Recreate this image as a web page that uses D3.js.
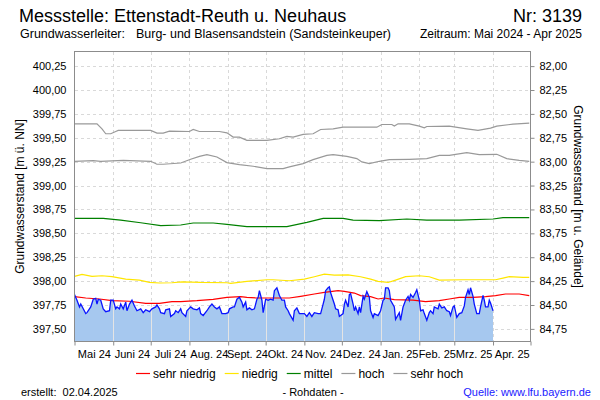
<!DOCTYPE html>
<html><head><meta charset="utf-8">
<script src="https://cdn.jsdelivr.net/npm/d3@7"></script>
<style>body{margin:0;background:#fff}svg{display:block;font-family:"Liberation Sans",Arial,sans-serif}</style>
</head><body><svg id="c" width="600" height="400"></svg>
<script>
// ---------- DATA ----------
const monthLabels = ["Mai 24","Juni 24","Juli 24","Aug. 24","Sept. 24","Okt. 24","Nov. 24","Dez. 24","Jan. 25","Feb. 25","Mrz. 25","Apr. 25"];
const monthStarts = ["2024-05-01","2024-06-01","2024-07-01","2024-08-01","2024-09-01","2024-10-01","2024-11-01","2024-12-01","2025-01-01","2025-02-01","2025-03-01","2025-04-01","2025-05-01"];
const leftTicks = [397.50,397.75,398.00,398.25,398.50,398.75,399.00,399.25,399.50,399.75,400.00,400.25];
const rightTicks = [82.00,82.25,82.50,82.75,83.00,83.25,83.50,83.75,84.00,84.25,84.50,84.75];
const groundLevel = 482.25;

const levelDates = ["2024-05-01","2024-05-03","2024-05-05","2024-05-06","2024-05-10","2024-05-11","2024-05-14","2024-05-16","2024-05-18","2024-05-19","2024-05-20","2024-05-22","2024-05-24","2024-05-26","2024-05-29","2024-05-30",
"2024-06-01","2024-06-03","2024-06-04","2024-06-06","2024-06-07","2024-06-09","2024-06-11","2024-06-12","2024-06-14","2024-06-16","2024-06-18","2024-06-20","2024-06-23","2024-06-25","2024-06-27","2024-06-30",
"2024-07-02","2024-07-05","2024-07-06","2024-07-08","2024-07-09","2024-07-12","2024-07-13","2024-07-16","2024-07-17","2024-07-20","2024-07-21","2024-07-23","2024-07-25","2024-07-26","2024-07-29","2024-07-30",
"2024-08-02","2024-08-04","2024-08-07","2024-08-09","2024-08-10","2024-08-12","2024-08-15","2024-08-17","2024-08-19","2024-08-21","2024-08-23","2024-08-25","2024-08-27","2024-08-30",
"2024-09-01","2024-09-02","2024-09-05","2024-09-06","2024-09-08","2024-09-10","2024-09-12","2024-09-13","2024-09-15","2024-09-16","2024-09-18","2024-09-20","2024-09-22","2024-09-24","2024-09-25","2024-09-26","2024-09-28","2024-09-29",
"2024-10-01","2024-10-03","2024-10-05","2024-10-07","2024-10-08","2024-10-10","2024-10-12","2024-10-14","2024-10-16","2024-10-17","2024-10-19","2024-10-20","2024-10-23","2024-10-24","2024-10-26","2024-10-28","2024-10-30",
"2024-11-01","2024-11-03","2024-11-05","2024-11-07","2024-11-09","2024-11-12","2024-11-14","2024-11-16","2024-11-17","2024-11-18","2024-11-20","2024-11-21","2024-11-22","2024-11-24","2024-11-25","2024-11-26","2024-11-28","2024-11-29","2024-11-30",
"2024-12-02","2024-12-03","2024-12-04","2024-12-06","2024-12-07","2024-12-08","2024-12-10","2024-12-11","2024-12-12","2024-12-14","2024-12-15","2024-12-16","2024-12-18","2024-12-19","2024-12-21","2024-12-23","2024-12-24","2024-12-26","2024-12-27","2024-12-30",
"2025-01-01","2025-01-03","2025-01-04","2025-01-05","2025-01-07","2025-01-08","2025-01-09","2025-01-12","2025-01-13","2025-01-16","2025-01-17","2025-01-19","2025-01-21","2025-01-23","2025-01-24","2025-01-25","2025-01-27","2025-01-29","2025-01-30",
"2025-02-01","2025-02-02","2025-02-04","2025-02-05","2025-02-07","2025-02-09","2025-02-10","2025-02-12","2025-02-13","2025-02-16","2025-02-17","2025-02-19","2025-02-21","2025-02-23","2025-02-25","2025-02-26","2025-02-28",
"2025-03-01","2025-03-03","2025-03-05","2025-03-07","2025-03-09","2025-03-10","2025-03-12","2025-03-13","2025-03-14","2025-03-16","2025-03-17","2025-03-19","2025-03-21","2025-03-22","2025-03-24","2025-03-25","2025-03-26","2025-03-28","2025-03-29","2025-03-30","2025-04-01"];
const levelValues = [397.86,397.80,397.73,397.76,397.66,397.67,397.73,397.81,397.82,397.76,397.81,397.80,397.71,397.68,397.69,397.80,
397.80,397.71,397.73,397.71,397.76,397.71,397.78,397.69,397.76,397.80,397.74,397.69,397.71,397.67,397.70,397.68,
397.71,397.73,397.75,397.71,397.67,397.66,397.70,397.71,397.63,397.66,397.69,397.67,397.71,397.67,397.63,397.69,
397.73,397.71,397.70,397.72,397.66,397.64,397.69,397.73,397.76,397.73,397.71,397.73,397.66,397.66,
397.67,397.71,397.73,397.73,397.81,397.83,397.78,397.73,397.78,397.70,397.72,397.70,397.71,397.81,397.83,397.90,397.80,397.67,
397.81,397.80,397.81,397.80,397.90,397.93,397.85,397.80,397.80,397.73,397.69,397.66,397.59,397.69,397.72,397.66,397.66,
397.66,397.63,397.67,397.63,397.67,397.66,397.66,397.76,397.81,397.90,397.93,397.94,397.88,397.80,397.76,397.71,397.70,397.63,397.64,
397.66,397.76,397.80,397.73,397.86,397.87,397.76,397.69,397.73,397.66,397.73,397.67,397.84,397.81,397.89,397.83,397.69,397.62,397.66,397.64,
397.69,397.80,397.81,397.93,397.93,397.90,397.80,397.73,397.60,397.67,397.59,397.73,397.80,397.84,397.80,397.86,397.83,397.88,397.91,
397.80,397.69,397.70,397.66,397.59,397.67,397.69,397.66,397.73,397.71,397.76,397.72,397.73,397.69,397.68,397.64,397.73,
397.74,397.62,397.66,397.67,397.74,397.83,397.91,397.86,397.93,397.84,397.76,397.66,397.66,397.73,397.85,397.80,397.73,397.73,397.80,397.77,397.69];

const sehrHochDates = ["2024-05-01","2024-05-19","2024-05-23","2024-05-26","2024-05-30","2024-06-03","2024-06-05","2024-07-01","2024-07-06","2024-07-11","2024-07-16","2024-08-01","2024-08-04","2024-08-09","2024-08-25","2024-08-31","2024-09-05","2024-09-10","2024-09-16","2024-10-02","2024-10-12","2024-10-18","2024-10-23","2024-10-31","2024-11-08","2024-11-14","2024-11-24","2024-12-02","2024-12-29","2025-01-02","2025-01-10","2025-01-12","2025-01-15","2025-01-24","2025-02-01","2025-02-05","2025-02-07","2025-02-25","2025-03-11","2025-03-20","2025-03-30","2025-04-04","2025-04-17","2025-04-30"];
const sehrHochValues = [399.646,399.646,399.594,399.542,399.542,399.566,399.577,399.577,399.549,399.549,399.570,399.566,399.587,399.566,399.566,399.552,399.507,399.507,399.473,399.473,399.490,399.514,399.507,399.535,399.542,399.587,399.594,399.611,399.611,399.639,399.639,399.622,399.646,399.646,399.622,399.604,399.618,399.622,399.594,399.577,399.601,399.622,399.643,399.653];

const hochDates = ["2024-05-01","2024-05-16","2024-05-22","2024-06-09","2024-07-01","2024-07-06","2024-07-11","2024-07-25","2024-08-02","2024-08-09","2024-08-15","2024-08-23","2024-08-31","2024-09-10","2024-09-21","2024-10-02","2024-10-15","2024-10-20","2024-10-31","2024-11-08","2024-11-19","2024-11-24","2024-12-05","2024-12-13","2024-12-17","2024-12-23","2024-12-31","2025-01-08","2025-01-24","2025-02-07","2025-02-17","2025-02-25","2025-03-11","2025-03-21","2025-04-04","2025-04-12","2025-04-22","2025-04-30"];
const hochValues = [399.254,399.261,399.254,399.264,399.254,399.223,399.223,399.236,399.275,399.306,399.323,399.299,399.240,399.219,399.202,399.177,399.177,399.195,399.229,399.271,399.316,399.323,399.306,399.282,399.247,399.229,399.254,399.271,399.275,399.282,399.316,399.316,399.344,399.323,399.327,399.282,399.264,399.254];

const mittelDates = ["2024-05-01","2024-05-24","2024-06-07","2024-06-23","2024-07-09","2024-07-25","2024-08-04","2024-08-20","2024-08-31","2024-09-16","2024-10-18","2024-11-03","2024-11-16","2024-12-02","2024-12-10","2024-12-31","2025-01-22","2025-02-07","2025-03-05","2025-04-01","2025-04-09","2025-04-30"];
const mittelValues = [398.657,398.657,398.639,398.611,398.580,398.587,398.608,398.608,398.594,398.570,398.570,398.615,398.657,398.657,398.639,398.632,398.650,398.639,398.639,398.650,398.664,398.664];

const niedrigDates = ["2024-05-01","2024-05-07","2024-05-15","2024-05-23","2024-05-31","2024-06-11","2024-06-22","2024-06-30","2024-07-08","2024-07-18","2024-07-26","2024-08-10","2024-08-31","2024-09-03","2024-09-16","2024-10-02","2024-10-07","2024-10-20","2024-11-01","2024-11-09","2024-11-17","2024-11-25","2024-12-06","2024-12-16","2024-12-24","2024-12-30","2025-01-07","2025-01-13","2025-01-21","2025-02-01","2025-02-09","2025-02-17","2025-03-08","2025-04-03","2025-04-09","2025-04-14","2025-04-25","2025-04-30"];
const niedrigValues = [398.049,398.070,398.049,398.056,398.046,398.021,398.011,397.986,397.980,397.983,397.993,397.986,397.983,397.976,397.997,398.014,398.014,398.004,398.021,398.046,398.073,398.063,398.066,398.046,398.021,397.997,397.986,398.011,398.046,398.056,398.046,398.011,398.014,398.014,398.032,398.046,398.039,398.039];

const sehrNiedrigDates = ["2024-05-01","2024-05-10","2024-05-21","2024-05-31","2024-06-14","2024-06-27","2024-07-08","2024-07-18","2024-07-25","2024-08-07","2024-08-20","2024-08-31","2024-09-11","2024-09-16","2024-09-24","2024-10-20","2024-10-29","2024-11-09","2024-11-17","2024-11-28","2024-12-03","2024-12-11","2024-12-16","2024-12-24","2024-12-30","2025-01-04","2025-01-12","2025-01-27","2025-02-06","2025-02-17","2025-02-25","2025-03-05","2025-03-16","2025-03-26","2025-04-03","2025-04-11","2025-04-22","2025-04-30"];
const sehrNiedrigValues = [397.837,397.823,397.813,397.795,397.789,397.768,397.768,397.785,397.785,397.795,397.809,397.830,397.837,397.830,397.823,397.823,397.841,397.865,397.882,397.900,397.893,397.875,397.848,397.837,397.813,397.823,397.806,397.802,397.785,397.795,397.813,397.830,397.830,397.837,397.848,397.865,397.865,397.848];

const legendNames = ["sehr niedrig","niedrig","mittel","hoch","sehr hoch"];
const legendColors = ["#ff0000","#ffe600","#008000","#999999","#999999"];

// ---------- CHART ----------
const svg = d3.select("#c");
const L = 74.5, R = 530.5, T = 51.5, B = 341.5;
const parse = d3.utcParse("%Y-%m-%d");
const x = d3.scaleUtc().domain([parse(monthStarts[0]), parse(monthStarts[monthStarts.length-1])]).range([L, R]);
const y = d3.scaleLinear().domain([397.368, 400.403]).range([B, T]);
const yR = d3.scaleLinear().domain([groundLevel-397.368, groundLevel-400.403]).range([B, T]);
const fmt = v => d3.format(".2f")(v).replace(".", ",");
const gridCol = "#d9d9d9";

// grid
const grid = svg.append("g").attr("shape-rendering","crispEdges");
grid.selectAll("line.h").data(leftTicks).join("line")
  .attr("x1", L).attr("x2", R).attr("y1", d => Math.round(y(d))+0.5).attr("y2", d => Math.round(y(d))+0.5)
  .attr("stroke", gridCol).attr("stroke-dasharray","3,3");
grid.selectAll("line.v").data(monthStarts.slice(1,-1)).join("line")
  .attr("x1", d => Math.round(x(parse(d)))+0.5).attr("x2", d => Math.round(x(parse(d)))+0.5)
  .attr("y1", T).attr("y2", B).attr("stroke", gridCol).attr("stroke-dasharray","3,3");

// level area
const level = levelDates.map((d,i) => ({date: parse(d), v: levelValues[i]}));
const area = d3.area().x(d => x(d.date)).y0(B).y1(d => y(d.v));
svg.append("path").datum(level).attr("d", area).attr("fill", "#a6c8ef");
svg.append("clipPath").attr("id","ac").append("path").datum(level).attr("d", area);
svg.append("g").attr("clip-path","url(#ac)").attr("shape-rendering","crispEdges")
  .selectAll("line").data(monthStarts.slice(1,-1)).join("line")
  .attr("x1", d => Math.round(x(parse(d)))+0.5).attr("x2", d => Math.round(x(parse(d)))+0.5)
  .attr("y1", T).attr("y2", B).attr("stroke", "#e4e4e4");

// reference lines
const line = d3.line().x(d => x(d.date)).y(d => y(d.v));
const refs = [
  [sehrHochDates, sehrHochValues, legendColors[4]],
  [hochDates, hochValues, legendColors[3]],
  [mittelDates, mittelValues, legendColors[2]],
  [niedrigDates, niedrigValues, legendColors[1]],
  [sehrNiedrigDates, sehrNiedrigValues, legendColors[0]]
];
refs.forEach(([ds, vs, c]) => {
  svg.append("path").datum(ds.map((d,i) => ({date: parse(d), v: vs[i]})))
    .attr("d", line).attr("fill","none").attr("stroke", c).attr("stroke-width", 1.2);
});
svg.append("path").datum(level).attr("d", line).attr("fill","none").attr("stroke","#0a14ff").attr("stroke-width",1.3);

// frame
svg.append("rect").attr("x", L).attr("y", T).attr("width", R-L).attr("height", B-T)
  .attr("fill","none").attr("stroke","#8c8c8c").attr("shape-rendering","crispEdges");

// axes
const ax = g => g.attr("font-family",'"Liberation Sans",Arial,sans-serif').attr("font-size",11);
const gl = svg.append("g").attr("transform",`translate(${L},0)`)
  .call(d3.axisLeft(y).tickValues(leftTicks).tickSize(0).tickPadding(8).tickFormat(fmt)).call(ax);
gl.select(".domain").remove();
const gr = svg.append("g").attr("transform",`translate(${R},0)`)
  .call(d3.axisRight(yR).tickValues(rightTicks).tickSize(4).tickPadding(5).tickFormat(fmt)).call(ax);
gr.select(".domain").remove();
gr.selectAll(".tick line").attr("stroke","#8c8c8c");
const gb = svg.append("g").attr("transform",`translate(0,${B})`)
  .call(d3.axisBottom(x).tickValues(monthStarts.map(parse)).tickSize(4).tickFormat("")).call(ax);
gb.select(".domain").remove();
gb.selectAll(".tick line").attr("stroke","#8c8c8c");
const mids = monthLabels.map((m,i) => new Date((parse(monthStarts[i]).getTime()+parse(monthStarts[i+1]).getTime())/2));
const gbl = svg.append("g").attr("transform",`translate(0,${B})`)
  .call(d3.axisBottom(x).tickValues(mids).tickSize(0).tickPadding(9).tickFormat((d,i) => monthLabels[i])).call(ax);
gbl.select(".domain").remove();
svg.selectAll(".tick text").attr("fill","#000");

// axis titles
svg.append("text").attr("transform",`translate(24,${(T+B)/2}) rotate(-90)`).attr("text-anchor","middle")
  .attr("font-size",12).text("Grundwasserstand [m ü. NN]");
svg.append("text").attr("transform",`translate(574,${(T+B)/2}) rotate(90)`).attr("text-anchor","middle")
  .attr("font-size",12).text("Grundwasserstand [m u. Gelände]");

// titles
svg.append("text").attr("x",19).attr("y",22).attr("font-size",18).text("Messstelle: Ettenstadt-Reuth u. Neuhaus");
svg.append("text").attr("x",582).attr("y",22).attr("font-size",18).attr("text-anchor","end").text("Nr: 3139");
svg.append("text").attr("x",20).attr("y",38).attr("font-size",12).attr("textLength",105).attr("lengthAdjust","spacingAndGlyphs").text("Grundwasserleiter:");
svg.append("text").attr("x",136).attr("y",38).attr("font-size",12).attr("textLength",255).attr("lengthAdjust","spacingAndGlyphs").text("Burg- und Blasensandstein (Sandsteinkeuper)");
svg.append("text").attr("x",582).attr("y",38).attr("font-size",12).attr("text-anchor","end").text("Zeitraum: Mai 2024 - Apr 2025");

// legend
let lx = 136;
legendNames.forEach((n,i) => {
  svg.append("line").attr("x1",lx).attr("x2",lx+14).attr("y1",373.5).attr("y2",373.5).attr("stroke",legendColors[i]).attr("stroke-width",1.2);
  const t = svg.append("text").attr("x",lx+17).attr("y",378).attr("font-size",12).text(n);
  lx += 17 + t.node().getComputedTextLength() + 9;
});

// footer
svg.append("text").attr("x",21).attr("y",396).attr("font-size",11).attr("xml:space","preserve").text("erstellt:  02.04.2025");
svg.append("text").attr("x",313).attr("y",396).attr("font-size",11).attr("text-anchor","middle").text("- Rohdaten -");
svg.append("text").attr("x",591).attr("y",396).attr("font-size",11).attr("text-anchor","end").attr("fill","#1a1aff").text("Quelle: www.lfu.bayern.de");
</script></body></html>
